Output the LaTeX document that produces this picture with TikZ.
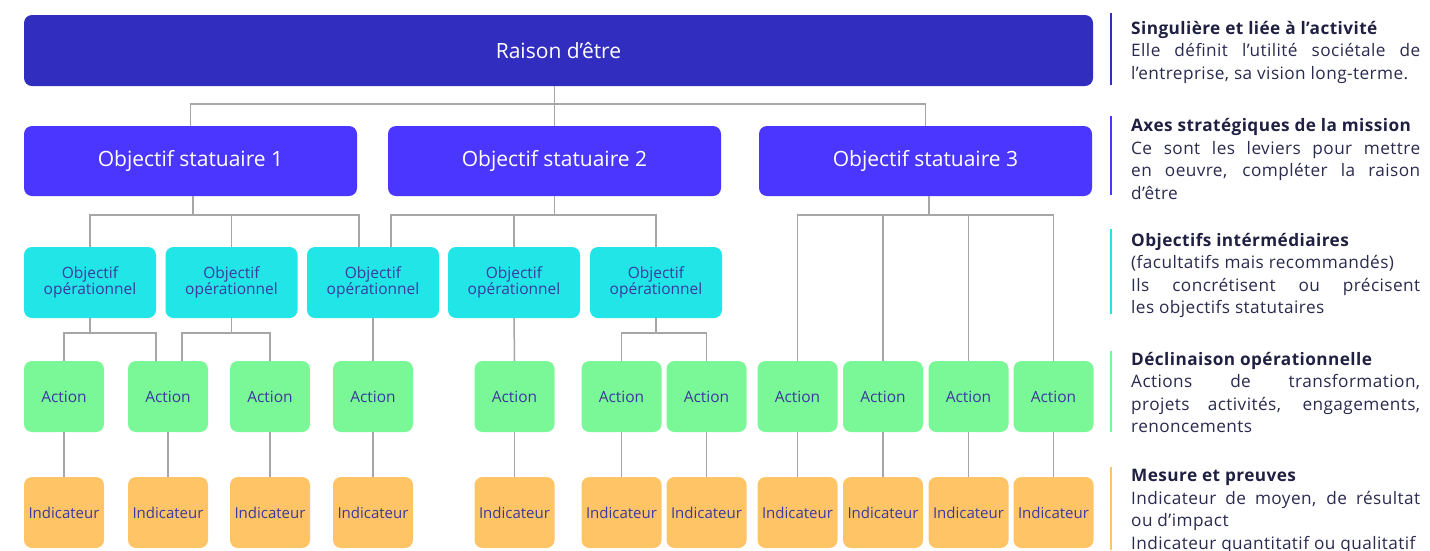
\documentclass[tikz,border=0pt]{standalone}
\usepackage{fontspec}
\setmainfont{Open Sans}
\newfontfamily\notefont[LetterSpace=2.5]{Open Sans}

\newlength{\du}
\setlength{\du}{1pt}

\definecolor{raisoncolor}{rgb}{0.192, 0.176, 0.745}
\definecolor{statucolor}{rgb}{0.294, 0.212, 1.000}
\definecolor{opercolor}{rgb}{0.133, 0.898, 0.910}
\definecolor{actioncolor}{rgb}{0.478, 0.973, 0.592}
\definecolor{indiccolor}{rgb}{0.996, 0.769, 0.396}
\definecolor{linkcolor}{rgb}{0.650, 0.650, 0.650}
\definecolor{labelcolor}{rgb}{0.231, 0.227, 0.620}
\definecolor{notecolor}{rgb}{0.165, 0.165, 0.310}
\definecolor{titlecolor}{rgb}{0.120, 0.120, 0.260}

\tikzset{
  diabox/.style={rounded corners=8\du, inner sep=0pt, align=center},
  raisonbox/.style={diabox, fill=raisoncolor, text=white, minimum width=1069\du, minimum height=71\du, font=\fontsize{21}{24}\selectfont},
  statubox/.style={diabox, fill=statucolor, text=white, minimum width=333\du, minimum height=70\du, font=\fontsize{21}{24}\selectfont},
  operbox/.style={diabox, fill=opercolor, text=labelcolor, minimum width=132\du, minimum height=71\du, font=\fontsize{15.5}{15.5}\selectfont},
  actionbox/.style={diabox, fill=actioncolor, text=labelcolor, minimum width=80\du, minimum height=71\du, font=\fontsize{15.5}{17}\selectfont},
  indicbox/.style={diabox, fill=indiccolor, text=labelcolor, minimum width=80\du, minimum height=71\du, font=\fontsize{15}{17}\selectfont},
  link/.style={draw=linkcolor, line width=1.5\du},
  notebar/.style={line width=2\du},
  notetext/.style={anchor=base west, inner sep=0pt, text width=289\du, align=justify, text=notecolor, font=\notefont\fontsize{17.2}{22.5}\selectfont}
}
\newcommand{\notetitle}[1]{\textcolor{titlecolor}{\textbf{#1}}}

\begin{document}
\begin{tikzpicture}
\pgftransformxscale{1.000000}
\pgftransformyscale{-1.000000}
\useasboundingbox (0\du,0\du) rectangle (1430\du,550\du);
% setfont left to latex
\node[raisonbox] (raison) at (558.5\du,50.5\du){Raison d’être};
\node[statubox] (os1) at (190.5\du,161\du){Objectif statuaire 1};
\node[statubox] (os2) at (554.5\du,161\du){Objectif statuaire 2};
\node[statubox] (os3) at (925.5\du,161\du){Objectif statuaire 3};
\node[operbox] (op1) at (90\du,282.5\du){Objectif\\opérationnel};
\node[operbox] (op2) at (231.5\du,282.5\du){Objectif\\opérationnel};
\node[operbox] (op3) at (373\du,282.5\du){Objectif\\opérationnel};
\node[operbox] (op4) at (514\du,282.5\du){Objectif\\opérationnel};
\node[operbox] (op5) at (656\du,282.5\du){Objectif\\opérationnel};
\node[actionbox] (act1) at (64\du,396.5\du){Action};
\node[actionbox] (act2) at (168\du,396.5\du){Action};
\node[actionbox] (act3) at (270\du,396.5\du){Action};
\node[actionbox] (act4) at (373\du,396.5\du){Action};
\node[actionbox] (act5) at (514.5\du,396.5\du){Action};
\node[actionbox] (act6) at (621.5\du,396.5\du){Action};
\node[actionbox] (act7) at (706.5\du,396.5\du){Action};
\node[actionbox] (act8) at (797.5\du,396.5\du){Action};
\node[actionbox] (act9) at (883\du,396.5\du){Action};
\node[actionbox] (act10) at (968.5\du,396.5\du){Action};
\node[actionbox] (act11) at (1053.5\du,396.5\du){Action};
\node[indicbox] (ind1) at (64\du,512.5\du){Indicateur};
\node[indicbox] (ind2) at (168\du,512.5\du){Indicateur};
\node[indicbox] (ind3) at (270\du,512.5\du){Indicateur};
\node[indicbox] (ind4) at (373\du,512.5\du){Indicateur};
\node[indicbox] (ind5) at (514.5\du,512.5\du){Indicateur};
\node[indicbox] (ind6) at (621.5\du,512.5\du){Indicateur};
\node[indicbox] (ind7) at (706.5\du,512.5\du){Indicateur};
\node[indicbox] (ind8) at (797.5\du,512.5\du){Indicateur};
\node[indicbox] (ind9) at (883\du,512.5\du){Indicateur};
\node[indicbox] (ind10) at (968.5\du,512.5\du){Indicateur};
\node[indicbox] (ind11) at (1053.5\du,512.5\du){Indicateur};
% bus points
\coordinate (busraison) at (554.5\du,104\du);
\coordinate (busos1) at (193\du,215\du);
\coordinate (busos2) at (554.5\du,215\du);
\coordinate (busos3) at (929\du,215\du);
\coordinate (busop1) at (90\du,333\du);
\coordinate (busop2) at (231.5\du,333\du);
\coordinate (busop5) at (656\du,333\du);
\coordinate (op3left) at (359\du,247\du);
\coordinate (op3right) at (391\du,247\du);
\coordinate (act2left) at (156\du,361\du);
\coordinate (act2right) at (182\du,361\du);
% links
\draw[link] (raison.south -| busraison) -- (os2.north);
\draw[link] (os1.north) |- (busraison) -| (os3.north);
\draw[link] (os1.south -| busos1) -- (busos1);
\draw[link] (op1.north) |- (busos1) -| (op3left);
\draw[link] (op2.north) -- (op2.north |- busos1);
\draw[link] (os2.south) -- (busos2);
\draw[link] (op3right) |- (busos2) -| (op5.north);
\draw[link] (op4.north) -- (op4.north |- busos2);
\draw[link] (os3.south -| busos3) -- (busos3);
\draw[link] (act8.north) |- (busos3) -| (act11.north);
\draw[link] (act9.north) -- (act9.north |- busos3);
\draw[link] (act10.north) -- (act10.north |- busos3);
\draw[link] (op1.south) -- (busop1);
\draw[link] (act1.north) |- (busop1) -| (act2left);
\draw[link] (op2.south) -- (busop2);
\draw[link] (act2right) |- (busop2) -| (act3.north);
\draw[link] (op3.south) -- (act4.north);
\draw[link] (op4.south) -- (act5.north);
\draw[link] (op5.south) -- (busop5);
\draw[link] (act6.north) |- (busop5) -| (act7.north);
\draw[link] (act1.south) -- (ind1.north);
\draw[link] (act2.south) -- (ind2.north);
\draw[link] (act3.south) -- (ind3.north);
\draw[link] (act4.south) -- (ind4.north);
\draw[link] (act5.south) -- (ind5.north);
\draw[link] (act6.south) -- (ind6.north);
\draw[link] (act7.south) -- (ind7.north);
\draw[link] (act8.south) -- (ind8.north);
\draw[link] (act9.south) -- (ind9.north);
\draw[link] (act10.south) -- (ind10.north);
\draw[link] (act11.south) -- (ind11.north);
% notes
\draw[notebar, draw=raisoncolor] (1111\du,13\du) -- (1111\du,85\du);
\draw[notebar, draw=statucolor] (1111\du,116\du) -- (1111\du,195\du);
\draw[notebar, draw=opercolor] (1111\du,229\du) -- (1111\du,314\du);
\draw[notebar, draw=actioncolor] (1111\du,351\du) -- (1111\du,432\du);
\draw[notebar, draw=indiccolor] (1111\du,467\du) -- (1111\du,550\du);
\node[notetext] (note1) at (1131\du,34.3\du){\notetitle{Singulière et liée à l’activité}\par
Elle définit l’utilité sociétale de\linebreak l’entreprise, sa vision long-terme.};
\node[notetext] (note2) at (1131\du,131.7\du){\notetitle{Axes stratégiques de la mission}\par
Ce sont les leviers pour mettre\linebreak en oeuvre, compléter la raison\linebreak d’être};
\node[notetext] (note3) at (1131\du,246\du){\notetitle{Objectifs intérmédiaires}\par
(facultatifs mais recommandés)\par
Ils concrétisent ou précisent\linebreak les objectifs statutaires};
\node[notetext] (note4) at (1131\du,365\du){\notetitle{Déclinaison opérationnelle}\par
Actions de transformation,\linebreak projets activités, engagements,\linebreak renoncements};
\node[notetext] (note5) at (1131\du,481.7\du){\notetitle{Mesure et preuves}\par
Indicateur de moyen, de résultat\linebreak ou d’impact\par
Indicateur quantitatif ou qualitatif};
\end{tikzpicture}
\end{document}
